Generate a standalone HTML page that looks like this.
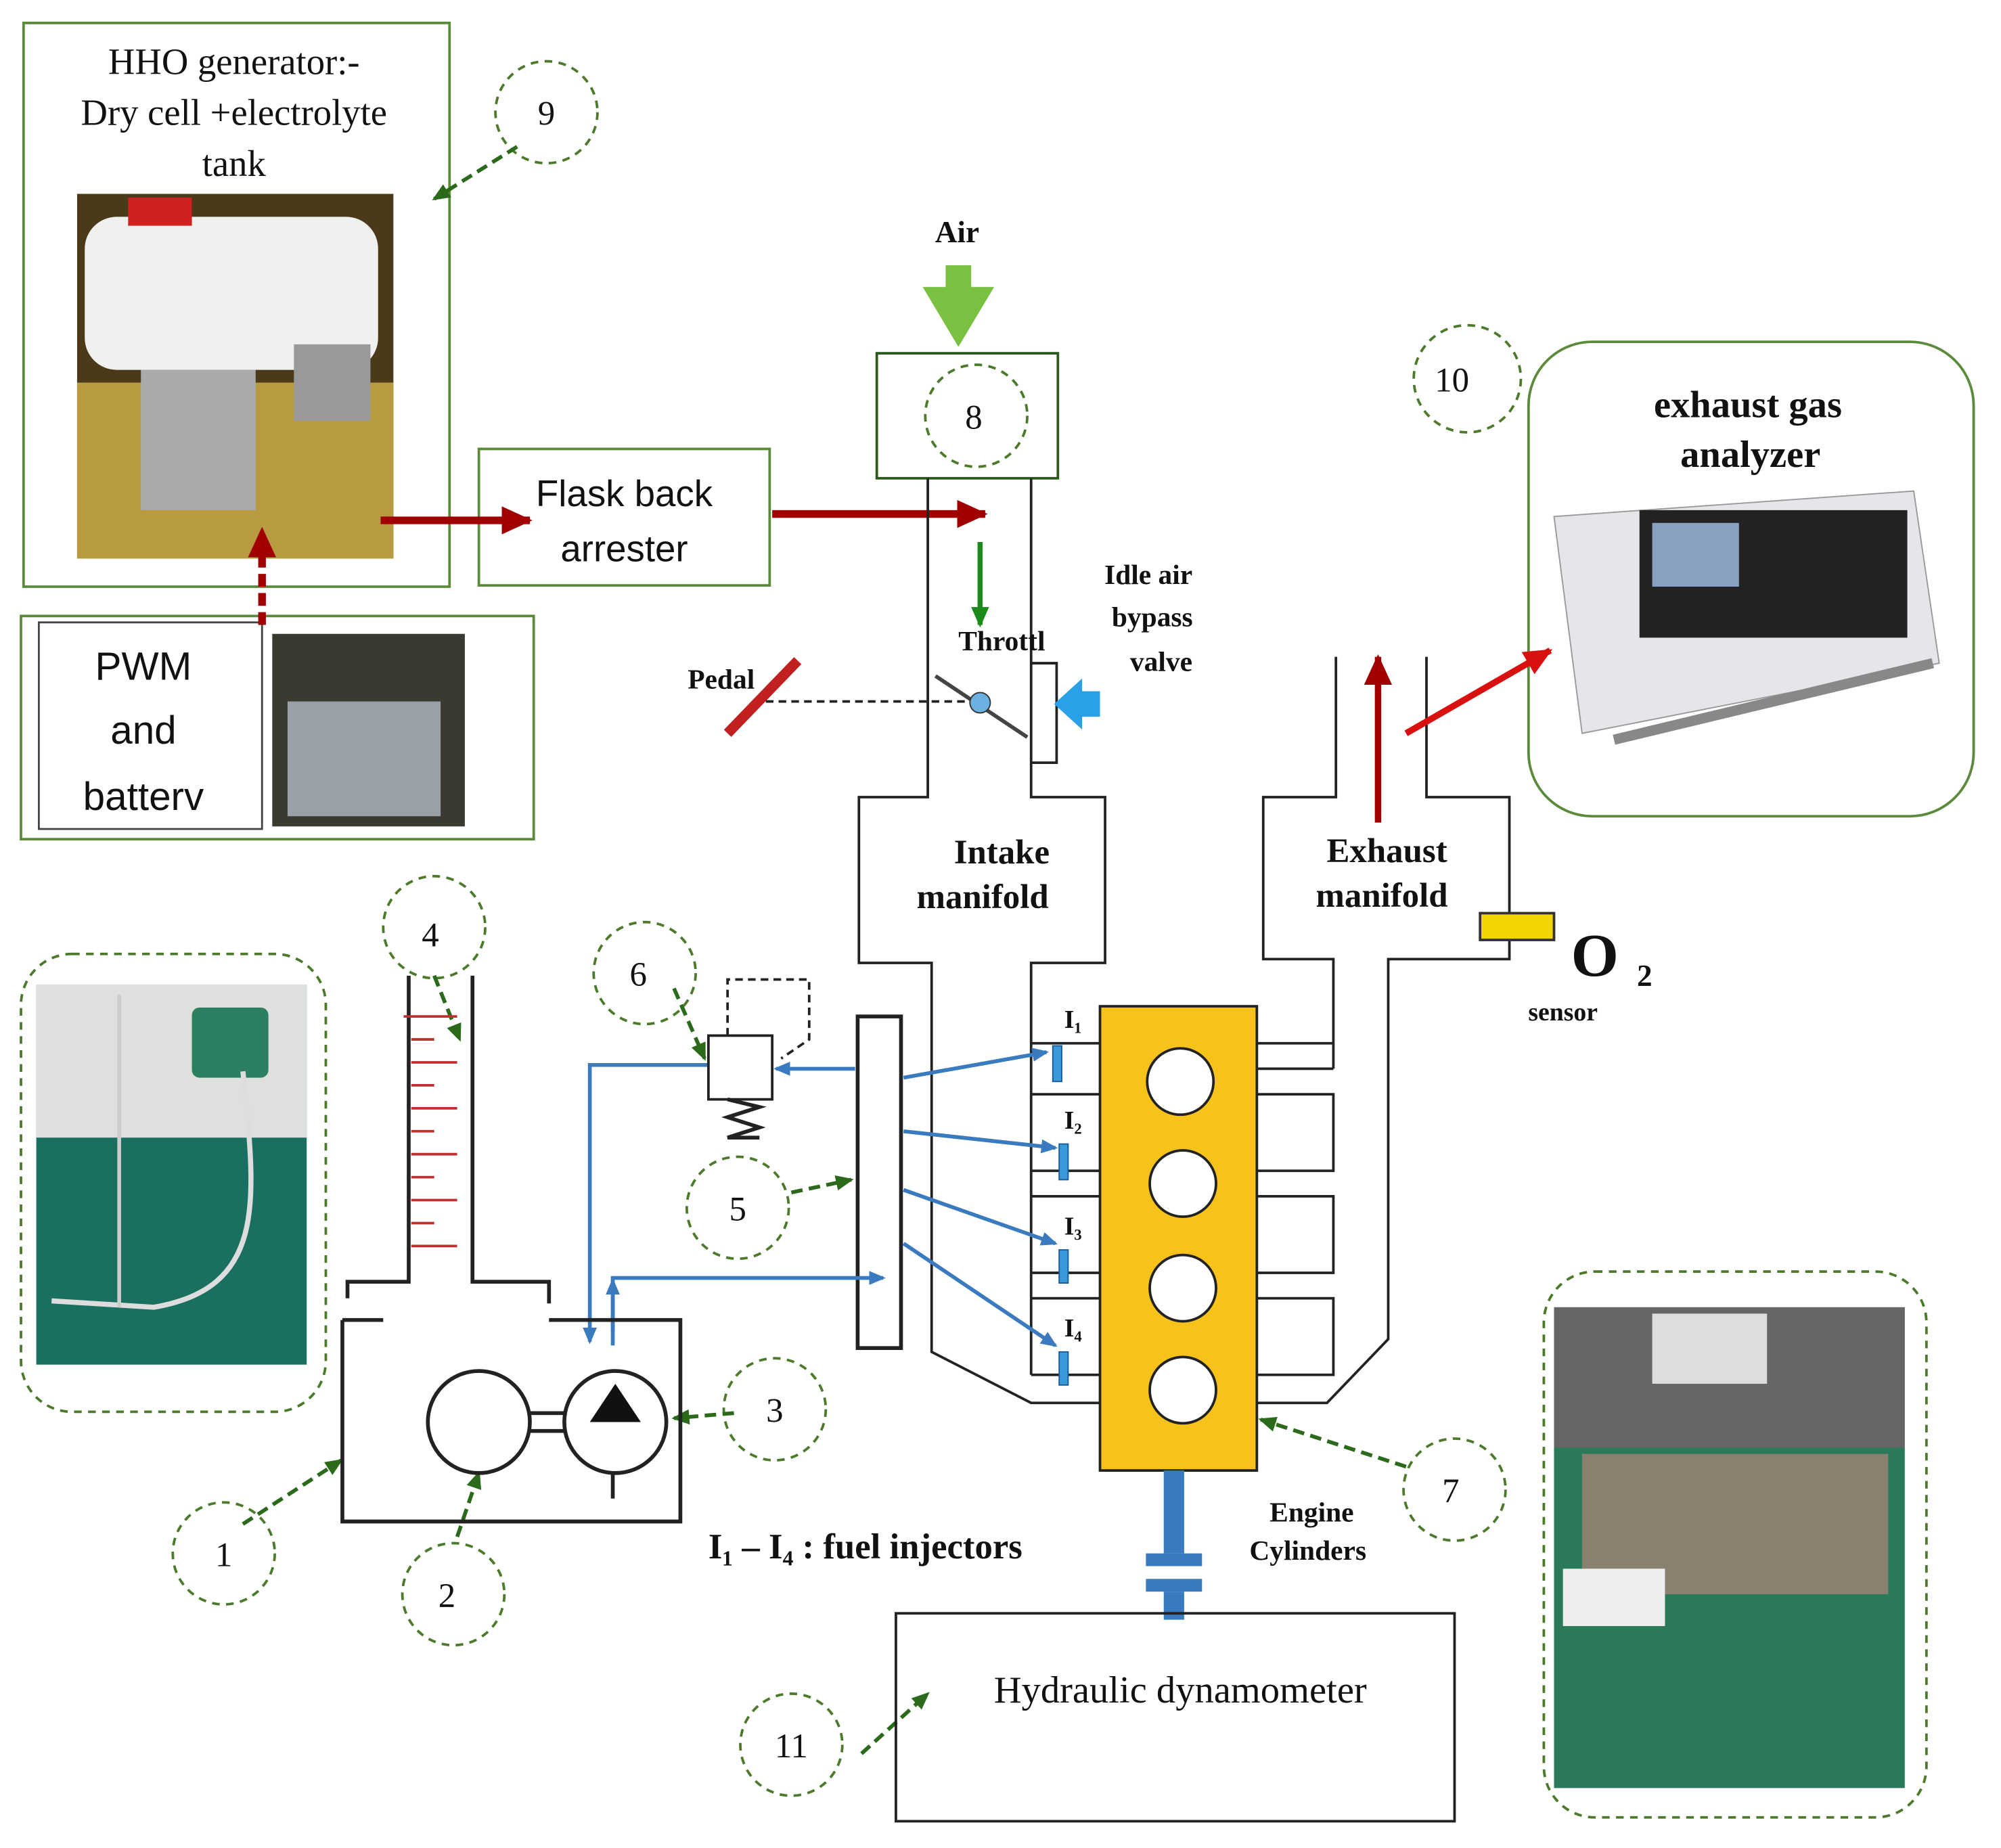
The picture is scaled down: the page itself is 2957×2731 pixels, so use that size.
<!DOCTYPE html>
<html><head><meta charset="utf-8"><style>
html,body{margin:0;padding:0;background:#fff}
svg{display:block}
text{font-family:"Liberation Serif",serif;fill:#111}
.b{font-weight:bold}
.s{font-family:"Liberation Sans",sans-serif}
</style></head><body>
<svg width="2957" height="2731" viewBox="0 0 1568 1449" xmlns="http://www.w3.org/2000/svg">
<defs>
<marker id="ar" markerWidth="24" markerHeight="22" refX="22" refY="11" orient="auto" markerUnits="userSpaceOnUse"><path d="M0,0 L24,11 L0,22z" fill="#a00000"/></marker>
<marker id="ar2" markerWidth="22" markerHeight="20" refX="20" refY="10" orient="auto" markerUnits="userSpaceOnUse"><path d="M0,0 L22,10 L0,20z" fill="#d81010"/></marker>
<marker id="ag" markerWidth="14" markerHeight="12" refX="12" refY="6" orient="auto" markerUnits="userSpaceOnUse"><path d="M0,0 L14,6 L0,12z" fill="#2a6a1a"/></marker>
<marker id="ab" markerWidth="13" markerHeight="11" refX="11" refY="5.5" orient="auto" markerUnits="userSpaceOnUse"><path d="M0,0 L13,5.5 L0,11z" fill="#3a7abf"/></marker>
<marker id="agr" markerWidth="16" markerHeight="14" refX="14" refY="7" orient="auto" markerUnits="userSpaceOnUse"><path d="M0,0 L16,7 L0,14z" fill="#1a8a1a"/></marker>
</defs>
<g fill="none" stroke="#5a8a3a" stroke-width="2">
<rect x="18" y="18" width="334" height="442"/>
<rect x="375" y="352" width="228" height="107"/>
<rect x="16" y="483" width="402" height="175"/>
<rect x="687" y="277" width="142" height="98" stroke="#2a5a1a"/>
<rect x="1198" y="268" width="349" height="372" rx="50"/>
</g>
<rect x="30" y="488" width="175" height="162" fill="none" stroke="#444" stroke-width="1.5"/>
<text x="183" y="58" font-size="29" text-anchor="middle">HHO generator:-</text>
<text x="183" y="98" font-size="29" text-anchor="middle">Dry cell +electrolyte</text>
<text x="183" y="138" font-size="29" text-anchor="middle">tank</text>
<rect x="60" y="152" width="248" height="286" fill="#4a3a1a"/>
<rect x="60" y="300" width="248" height="138" fill="#b89a40"/>
<rect x="66" y="170" width="230" height="120" rx="25" fill="#f0f0ee"/>
<rect x="100" y="155" width="50" height="22" fill="#d02020"/>
<rect x="110" y="290" width="90" height="110" fill="#aaa"/>
<rect x="230" y="270" width="60" height="60" fill="#999"/>
<text x="489" y="397" font-size="29" class="s" text-anchor="middle">Flask back</text>
<text x="489" y="440" font-size="29" class="s" text-anchor="middle">arrester</text>
<text x="112" y="533" font-size="31" class="s" text-anchor="middle">PWM</text>
<text x="112" y="583" font-size="31" class="s" text-anchor="middle">and</text>
<text x="112" y="635" font-size="31" class="s" text-anchor="middle">batterv</text>
<rect x="213" y="497" width="151" height="151" fill="#3a3a30"/>
<rect x="225" y="550" width="120" height="90" fill="#9aa0a8"/>
<line x1="298" y1="408" x2="415" y2="408" stroke="#a00000" stroke-width="6" marker-end="url(#ar)"/>
<line x1="605" y1="403" x2="772" y2="403" stroke="#a00000" stroke-width="6" marker-end="url(#ar)"/>
<line x1="205" y1="490" x2="205" y2="415" stroke="#a00000" stroke-width="6" stroke-dasharray="10,5" marker-end="url(#ar)"/>
<g fill="none" stroke="#4a7a2a" stroke-width="2" stroke-dasharray="6,5">
<circle cx="428" cy="88" r="40"/><circle cx="765" cy="326" r="40"/><circle cx="1150" cy="297" r="42"/>
<circle cx="175" cy="1218" r="40"/><circle cx="355" cy="1250" r="40"/><circle cx="607" cy="1105" r="40"/>
<circle cx="340" cy="727" r="40"/><circle cx="578" cy="947" r="40"/><circle cx="505" cy="763" r="40"/>
<circle cx="1140" cy="1168" r="40"/><circle cx="620" cy="1368" r="40"/>
<rect x="16" y="748" width="239" height="359" rx="40"/>
<rect x="1210" y="997" width="300" height="428" rx="40"/>
</g>
<g font-size="27" text-anchor="middle" class="s">
<text x="428" y="98">9</text><text x="763" y="336">8</text><text x="1138" y="307">10</text>
<text x="175" y="1228">1</text><text x="350" y="1260">2</text><text x="607" y="1115">3</text>
<text x="337" y="742">4</text><text x="578" y="957">5</text><text x="500" y="773">6</text>
<text x="1137" y="1178">7</text><text x="620" y="1378">11</text>
</g>
<g stroke="#2a6a1a" stroke-width="3" stroke-dasharray="9,5" fill="none">
<line x1="405" y1="115" x2="340" y2="156" marker-end="url(#ag)"/>
<line x1="190" y1="1195" x2="267" y2="1145" marker-end="url(#ag)"/>
<line x1="358" y1="1205" x2="375" y2="1155" marker-end="url(#ag)"/>
<line x1="575" y1="1108" x2="528" y2="1112" marker-end="url(#ag)"/>
<line x1="340" y1="765" x2="360" y2="815" marker-end="url(#ag)"/>
<line x1="620" y1="935" x2="667" y2="925" marker-end="url(#ag)"/>
<line x1="528" y1="775" x2="552" y2="830" marker-end="url(#ag)"/>
<line x1="1102" y1="1150" x2="988" y2="1113" marker-end="url(#ag)"/>
<line x1="675" y1="1375" x2="727" y2="1328" marker-end="url(#ag)"/>
</g>
<text x="750" y="190" font-size="24" class="b" text-anchor="middle">Air</text>
<rect x="741" y="208" width="20" height="30" fill="#7ac142"/>
<polygon points="723,225 779,225 751,272" fill="#7ac142"/>
<g stroke="#222" stroke-width="2" fill="none">
<polyline points="727,375 727,625 673,625 673,755 730,755 730,1060 808,1100 862,1100"/>
<polyline points="808,375 808,625 866,625 866,755 808,755 808,1078"/>
<polyline points="1047,515 1047,625 990,625 990,752 1045,752 1045,838"/>
<polyline points="1118,515 1118,625 1183,625 1183,752 1088,752 1088,1050 1040,1100 985,1100"/>
<polyline points="808,818 1045,818"/>
<polyline points="985,838 1045,838"/><polyline points="808,858 1045,858 1045,918 808,918"/>
<polyline points="808,938 1045,938 1045,998 808,998"/>
<polyline points="808,1018 1045,1018 1045,1078 808,1078"/>
</g>
<line x1="768" y1="425" x2="768" y2="490" stroke="#1a8a1a" stroke-width="4" marker-end="url(#agr)"/>
<text x="785" y="510" font-size="22" class="b" text-anchor="middle">Throttl</text>
<text x="565" y="540" font-size="22" class="b" text-anchor="middle">Pedal</text>
<line x1="570" y1="575" x2="625" y2="518" stroke="#c02020" stroke-width="8"/>
<line x1="600" y1="550" x2="762" y2="550" stroke="#222" stroke-width="2" stroke-dasharray="6,4"/>
<line x1="733" y1="530" x2="805" y2="578" stroke="#444" stroke-width="3"/>
<circle cx="768" cy="551" r="8" fill="#6ab0e0" stroke="#333"/>
<polyline points="808,520 828,520 828,598 808,598" fill="none" stroke="#222" stroke-width="2"/>
<polygon points="826,552 848,532 848,542 862,542 862,562 848,562 848,572" fill="#2aa0e8"/>
<g font-size="22" class="b" text-anchor="middle"><text x="900" y="458">Idle air</text><text x="903" y="491">bypass</text><text x="910" y="526">valve</text></g>
<g font-size="27" class="b" text-anchor="middle"><text x="785" y="677">Intake</text><text x="770" y="712">manifold</text>
<text x="1087" y="676">Exhaust</text><text x="1083" y="711">manifold</text></g>
<line x1="1080" y1="645" x2="1080" y2="515" stroke="#a00000" stroke-width="5" marker-end="url(#ar)"/>
<line x1="1102" y1="575" x2="1215" y2="510" stroke="#d81010" stroke-width="5" marker-end="url(#ar2)"/>
<text x="1370" y="327" font-size="30" class="b" text-anchor="middle">exhaust gas</text>
<text x="1372" y="366" font-size="30" class="b" text-anchor="middle">analyzer</text>
<polygon points="1218,405 1500,385 1520,520 1240,575" fill="#e4e6ea" stroke="#999"/>
<rect x="1285" y="400" width="210" height="100" fill="#222"/>
<rect x="1295" y="410" width="68" height="50" fill="#8aa0c0"/>
<line x1="1265" y1="580" x2="1515" y2="520" stroke="#888" stroke-width="8"/>
<rect x="1160" y="716" width="58" height="21" fill="#f2d400" stroke="#333" stroke-width="2"/>
<text x="1250" y="765" font-size="48" class="b" text-anchor="middle">O</text>
<text x="1283" y="773" font-size="24" class="b">2</text>
<text x="1225" y="800" font-size="20" class="b" text-anchor="middle">sensor</text>
<rect x="862" y="789" width="123" height="364" fill="#f7c21a" stroke="#222" stroke-width="2"/>
<g fill="#fff" stroke="#222" stroke-width="2"><circle cx="925" cy="848" r="26"/><circle cx="927" cy="928" r="26"/><circle cx="927" cy="1010" r="26"/><circle cx="927" cy="1090" r="26"/></g>
<g fill="#3a9ad9" stroke="#1a5a9a"><rect x="825" y="820" width="7" height="28"/><rect x="830" y="897" width="7" height="28"/><rect x="830" y="980" width="7" height="26"/><rect x="830" y="1060" width="7" height="26"/></g>
<g font-size="20" class="b"><text x="834" y="806">I₁</text><text x="834" y="885">I₂</text><text x="834" y="968">I₃</text><text x="834" y="1048">I₄</text></g>
<rect x="672" y="797" width="34" height="260" fill="#fff" stroke="#222" stroke-width="3"/>
<g stroke="#3a7abf" stroke-width="3" fill="none">
<line x1="708" y1="845" x2="820" y2="825" marker-end="url(#ab)"/>
<line x1="708" y1="887" x2="827" y2="900" marker-end="url(#ab)"/>
<line x1="708" y1="933" x2="827" y2="975" marker-end="url(#ab)"/>
<line x1="708" y1="975" x2="827" y2="1055" marker-end="url(#ab)"/>
<line x1="670" y1="838" x2="608" y2="838" marker-end="url(#ab)"/>
<polyline points="555,835 462,835 462,1052" marker-end="url(#ab)"/>
<polyline points="480,1055 480,1002 692,1002" marker-end="url(#ab)"/>
<line x1="480" y1="1045" x2="480" y2="1004" marker-end="url(#ab)"/>
</g>
<rect x="555" y="812" width="50" height="50" fill="#fff" stroke="#222" stroke-width="2"/>
<polyline points="570,862 595,868 570,876 595,884 570,892 595,892" fill="none" stroke="#222" stroke-width="3"/>
<polyline points="570,812 570,768 634,768 634,815 612,830" fill="none" stroke="#222" stroke-width="2" stroke-dasharray="6,4"/>
<g stroke="#222" stroke-width="3" fill="none">
<polyline points="320,765 320,1005 272,1005 272,1018"/>
<polyline points="370,765 370,1005 430,1005 430,1022"/>
<polyline points="268,1035 268,1193 533,1193 533,1035 430,1035"/>
<polyline points="268,1035 300,1035"/>
<circle cx="375" cy="1115" r="40"/><circle cx="482" cy="1115" r="40"/>
<line x1="415" y1="1108" x2="442" y2="1108"/><line x1="415" y1="1122" x2="442" y2="1122"/>
<line x1="480" y1="1155" x2="480" y2="1175"/>
</g>
<polygon points="462,1115 502,1115 482,1085" fill="#111"/>
<g stroke="#c03030" stroke-width="2">
<line x1="316" y1="797" x2="358" y2="797"/><line x1="322" y1="815" x2="340" y2="815"/><line x1="322" y1="833" x2="358" y2="833"/>
<line x1="322" y1="851" x2="340" y2="851"/><line x1="322" y1="869" x2="358" y2="869"/><line x1="322" y1="887" x2="340" y2="887"/>
<line x1="322" y1="905" x2="358" y2="905"/><line x1="322" y1="923" x2="340" y2="923"/><line x1="322" y1="941" x2="358" y2="941"/>
<line x1="322" y1="959" x2="340" y2="959"/><line x1="322" y1="977" x2="358" y2="977"/>
</g>
<text x="555" y="1222" font-size="28" class="b">I₁ – I₄ : fuel injectors</text>
<text x="1028" y="1193" font-size="22" class="b" text-anchor="middle">Engine</text>
<text x="1025" y="1223" font-size="22" class="b" text-anchor="middle">Cylinders</text>
<rect x="912" y="1153" width="16" height="65" fill="#3a7abf"/>
<rect x="898" y="1218" width="44" height="10" fill="#3a7abf"/>
<rect x="898" y="1238" width="44" height="10" fill="#3a7abf"/>
<rect x="912" y="1248" width="16" height="22" fill="#3a7abf"/>
<rect x="702" y="1265" width="438" height="163" fill="none" stroke="#222" stroke-width="2"/>
<text x="925" y="1335" font-size="30" text-anchor="middle">Hydraulic dynamometer</text>
<rect x="28" y="772" width="212" height="298" fill="#1a7060"/>
<rect x="28" y="772" width="212" height="120" fill="#dde0dc"/>
<rect x="150" y="790" width="60" height="55" rx="6" fill="#2a8060"/>
<path d="M190,840 C200,940 210,1010 120,1025 L40,1020" stroke="#ddd" stroke-width="4" fill="none"/>
<line x1="93" y1="780" x2="93" y2="1025" stroke="#ccc" stroke-width="3"/>
<rect x="1218" y="1025" width="275" height="377" fill="#2a7a5a"/>
<rect x="1218" y="1025" width="275" height="110" fill="#666"/>
<rect x="1295" y="1030" width="90" height="55" fill="#ddd"/>
<rect x="1240" y="1140" width="240" height="110" fill="#8a8070"/>
<rect x="1225" y="1230" width="80" height="45" fill="#eee"/>
</svg>
</body></html>
